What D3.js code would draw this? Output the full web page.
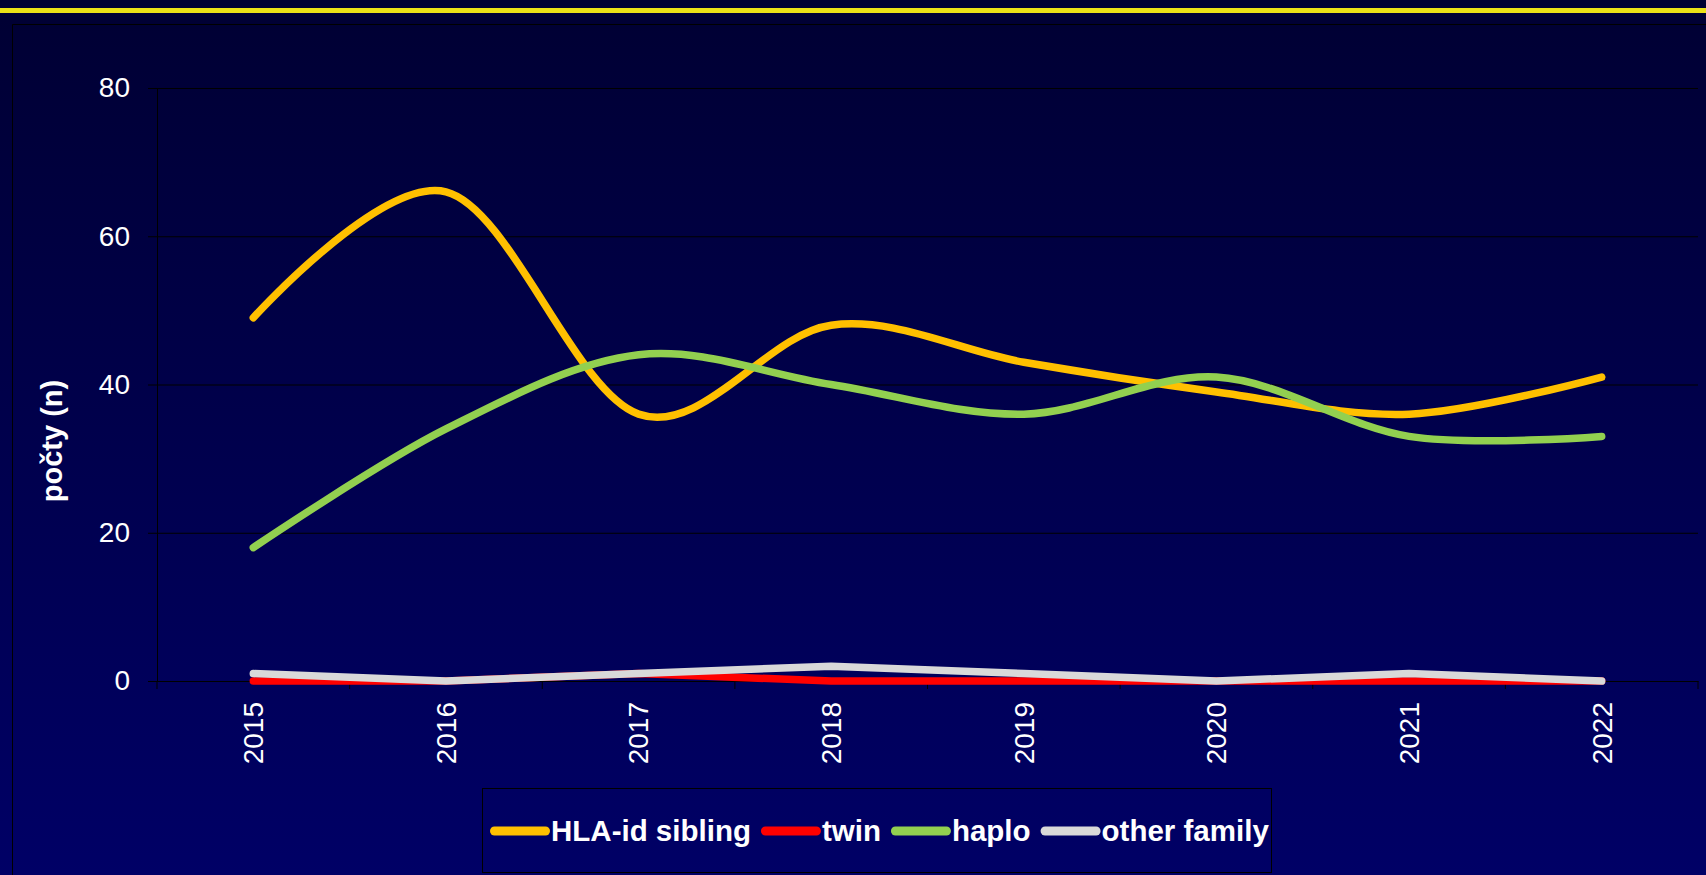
<!DOCTYPE html>
<html>
<head>
<meta charset="utf-8">
<script src="https://cdn.jsdelivr.net/npm/d3@7"></script>
<style>
  body { margin: 0; background: #000033; }
  svg { display: block; font-family: "Liberation Sans", Arial, sans-serif; }
</style>
</head>
<body>
<div id="chart"></div>
<script>
// Data
var years = ['2015', '2016', '2017', '2018', '2019', '2020', '2021', '2022'];
var hlaSibling = [49, 66, 36, 48, 43, 39, 36, 41];
var twin = [0, 0, 1, 0, 0, 0, 0, 0];
var haplo = [18, 34, 44, 40, 36, 41, 33, 33];
var otherFamily = [1, 0, 1, 2, 1, 0, 1, 0];
var yTicks = [0, 20, 40, 60, 80];
var yTitle = 'počty (n)';

var series = [
    { name: 'HLA-id sibling', values: hlaSibling, color: '#ffc000', smooth: true },
    { name: 'twin', values: twin, color: '#ff0000', smooth: false },
    { name: 'haplo', values: haplo, color: '#92d050', smooth: true },
    { name: 'other family', values: otherFamily, color: '#d9d9d9', smooth: false }
];

var W = 1706, H = 875;
var plot = { left: 157, right: 1698, top: 88, bottom: 681 };

var svg = d3.select('#chart').append('svg')
    .attr('width', W)
    .attr('height', H);

// Background gradient
var grad = svg.append('defs').append('linearGradient')
    .attr('id', 'bg')
    .attr('x1', 0).attr('y1', 0).attr('x2', 0).attr('y2', 1);
grad.append('stop').attr('offset', '0%').attr('stop-color', '#000033');
grad.append('stop').attr('offset', '100%').attr('stop-color', '#000066');

svg.append('rect')
    .attr('width', W)
    .attr('height', H)
    .attr('fill', 'url(#bg)');

// Yellow band at the top
svg.append('rect')
    .attr('x', 0).attr('y', 8)
    .attr('width', W).attr('height', 5)
    .attr('fill', '#ebe117');

// Chart area border
svg.append('path')
    .attr('d', 'M12.5,' + H + 'V24.5H' + W)
    .attr('fill', 'none')
    .attr('stroke', '#000000');

// Scales
var x = d3.scaleBand().domain(years).range([plot.left, plot.right]);
var y = d3.scaleLinear().domain([0, 80]).range([plot.bottom, plot.top]);

// Grid lines
svg.append('g')
    .attr('transform', 'translate(' + plot.left + ',0)')
    .call(d3.axisLeft(y).tickValues(yTicks).tickSize(-(plot.right - plot.left)).tickFormat(''))
    .call(function (g) { g.select('.domain').remove(); })
    .selectAll('line')
    .attr('stroke', '#000000');

// Y axis
var yAxis = svg.append('g')
    .attr('transform', 'translate(' + plot.left + ',0)')
    .call(d3.axisLeft(y).tickValues(yTicks).tickSizeInner(9).tickSizeOuter(0).tickPadding(18));
yAxis.select('.domain').attr('stroke', '#000000');
yAxis.selectAll('line').attr('stroke', '#000000');
yAxis.selectAll('text')
    .attr('fill', '#ffffff')
    .style('font-size', '28px');

// Y axis title
svg.append('text')
    .attr('transform', 'translate(52,441) rotate(-90)')
    .attr('text-anchor', 'middle')
    .attr('dy', '0.35em')
    .attr('fill', '#ffffff')
    .style('font-size', '29px')
    .style('font-weight', 'bold')
    .text(yTitle);

// X axis (labels at band centres)
var xAxis = svg.append('g')
    .attr('transform', 'translate(0,' + plot.bottom + ')')
    .call(d3.axisBottom(x).tickSize(0));
xAxis.select('.domain').attr('stroke', '#000000');
xAxis.selectAll('text')
    .attr('transform', 'rotate(-90)')
    .attr('text-anchor', 'end')
    .attr('x', -21)
    .attr('y', 0)
    .attr('dy', '0.35em')
    .attr('fill', '#ffffff')
    .style('font-size', '28px');

// X tick marks between categories
var bounds = years.map(function (d) { return x(d); }).concat([x(years[years.length - 1]) + x.step()]);
svg.append('g').selectAll('line')
    .data(bounds)
    .enter().append('line')
    .attr('x1', function (d) { return d; })
    .attr('x2', function (d) { return d; })
    .attr('y1', plot.bottom)
    .attr('y2', plot.bottom + 8)
    .attr('stroke', '#000000');

// Lines (the big series are smoothed, the small ones straight)
function lineFor(s) {
    return d3.line()
        .x(function (d, i) { return x(years[i]) + x.bandwidth() / 2; })
        .y(function (d) { return y(d); })
        .curve(s.smooth ? d3.curveCardinal : d3.curveLinear)(s.values);
}

svg.append('g').selectAll('path')
    .data(series)
    .enter().append('path')
    .attr('d', lineFor)
    .attr('fill', 'none')
    .attr('stroke', function (d) { return d.color; })
    .attr('stroke-width', 7.5)
    .attr('stroke-linecap', 'round')
    .attr('stroke-linejoin', 'round');

// Legend
svg.append('rect')
    .attr('x', 482.5).attr('y', 788.5)
    .attr('width', 789).attr('height', 84)
    .attr('fill', 'none')
    .attr('stroke', '#000000');

var legend = svg.append('g');
var lx = 490, ly = 831;
series.forEach(function (s) {
    legend.append('line')
        .attr('x1', lx + 4.5).attr('x2', lx + 55.5)
        .attr('y1', ly).attr('y2', ly)
        .attr('stroke', s.color)
        .attr('stroke-width', 9)
        .attr('stroke-linecap', 'round');
    var t = legend.append('text')
        .attr('x', lx + 61)
        .attr('y', ly)
        .attr('dy', '0.35em')
        .attr('fill', '#ffffff')
        .style('font-size', '29.5px')
        .style('font-weight', 'bold')
        .text(s.name);
    lx = lx + 61 + t.node().getComputedTextLength() + 10;
});
</script>
</body>
</html>
